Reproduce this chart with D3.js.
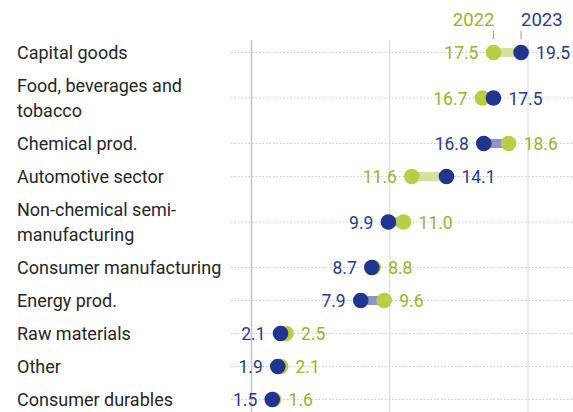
<!DOCTYPE html>
<html lang="en">
<head>
  <meta charset="utf-8">
  <title>Exports by sector, 2022 vs 2023</title>
  <script src="https://d3js.org/d3.v7.min.js"></script>
  <style>
    body { margin: 0; background: #fff; }
    text { font-family: Roboto, sans-serif; }
  </style>
</head>
<body>
<script>
  // data
  var sectors = [
    ["Capital goods"],
    ["Food, beverages and", "tobacco"],
    ["Chemical prod."],
    ["Automotive sector"],
    ["Non-chemical semi-", "manufacturing"],
    ["Consumer manufacturing"],
    ["Energy prod."],
    ["Raw materials"],
    ["Other"],
    ["Consumer durables"]
  ];
  var v2022 = [17.5, 16.7, 18.6, 11.6, 11.0, 8.8, 9.6, 2.5, 2.1, 1.6];
  var v2023 = [19.5, 17.5, 16.8, 14.1, 9.9, 8.7, 7.9, 2.1, 1.9, 1.5];
  var gridTicks = [0, 10, 20];

  var width = 573, height = 412;
  var green = "#b7ce45", blue = "#1f3590";
  var greenText = "#9ab22c", blueText = "#28398e";

  var svg = d3.select("body").append("svg")
      .attr("width", width)
      .attr("height", height);

  var x = d3.scaleLinear().domain([0, 20]).range([251.5, 528]);

  // rows: taller when the label wraps to two lines
  var rowTop = 36, h1 = 33, h2 = 58;
  var rows = [];
  sectors.forEach(function(s, i) {
    var h = s.length > 1 ? h2 : h1;
    rows.push({ i: i, label: s, a: v2022[i], b: v2023[i], y: rowTop + h / 2 });
    rowTop += h;
  });

  // vertical grid
  svg.append("g").selectAll("line")
      .data(gridTicks)
      .enter().append("line")
      .attr("x1", d => x(d)).attr("x2", d => x(d))
      .attr("y1", 40).attr("y2", height)
      .style("stroke", d => d === 0 ? "#c4c4c4" : "#e4e4e4")
      .style("stroke-width", 1.5);

  var row = svg.append("g").selectAll("g")
      .data(rows)
      .enter().append("g")
      .attr("transform", d => "translate(0," + d.y + ")");

  // dotted guide
  row.append("line")
      .attr("x1", 231).attr("x2", width)
      .style("stroke", "#c8c8c8")
      .style("stroke-dasharray", "1.5,2")
      .style("stroke-width", 1);

  // category labels
  row.append("text")
      .attr("x", 17)
      .attr("fill", "#262626")
      .style("font-size", "18px")
      .selectAll("tspan")
      .data(d => d.label.map((t, k) => ({ t: t, k: k, n: d.label.length })))
      .enter().append("tspan")
      .attr("x", 17)
      .attr("y", d => 6.5 + (d.k - (d.n - 1) / 2) * 25)
      .text(d => d.t);

  // connecting bar
  row.append("rect")
      .attr("x", d => x(Math.min(d.a, d.b)))
      .attr("width", d => Math.abs(x(d.b) - x(d.a)))
      .attr("y", -4.5).attr("height", 9)
      .style("fill", d => d.b >= d.a ? "#d5e19c" : "#8d96c8");

  row.append("circle")
      .attr("cx", d => x(d.a)).attr("r", 7.8)
      .style("fill", green);
  row.append("circle")
      .attr("cx", d => x(d.b)).attr("r", 7.8)
      .style("fill", blue);

  // value labels
  function valueLabel(sel, key, other, col) {
    sel.append("text")
      .attr("x", d => d[key] >= d[other] ? x(d[key]) + 15 : x(d[key]) - 15)
      .attr("y", 6.5)
      .attr("text-anchor", d => d[key] >= d[other] ? "start" : "end")
      .attr("fill", col)
      .style("font-size", "17.5px")
      .text(d => d3.format(".1f")(d[key]));
  }
  valueLabel(row, "a", "b", greenText);
  valueLabel(row, "b", "a", blueText);

  // year header above the first row
  var first = rows[0];
  var head = svg.append("g");
  head.append("line")
      .attr("x1", x(first.a)).attr("x2", x(first.a))
      .attr("y1", 31).attr("y2", 39)
      .style("stroke", "#999");
  head.append("line")
      .attr("x1", x(first.b)).attr("x2", x(first.b))
      .attr("y1", 31).attr("y2", 39)
      .style("stroke", "#999");
  head.append("text")
      .attr("x", x(first.a) + 1).attr("y", 26)
      .attr("text-anchor", "end")
      .attr("fill", greenText)
      .style("font-size", "18.5px")
      .text("2022");
  head.append("text")
      .attr("x", x(first.b)).attr("y", 26)
      .attr("fill", blueText)
      .style("font-size", "18.5px")
      .text("2023");
</script>
</body>
</html>
